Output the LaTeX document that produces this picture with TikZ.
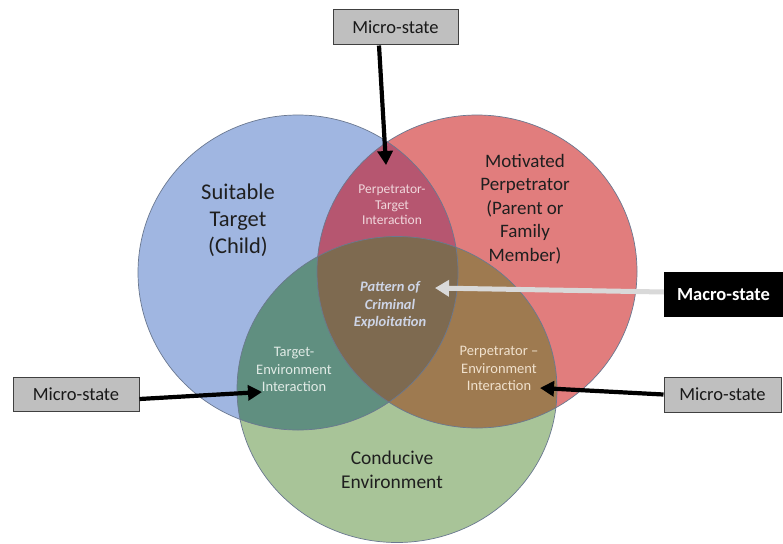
\documentclass[tikz,border=0pt]{standalone}
\usepackage{fontspec}
\setmainfont{Carlito}
\usetikzlibrary{arrows.meta}
\definecolor{bluec}{HTML}{A0B6E1}
\definecolor{redc}{HTML}{E17D7D}
\definecolor{greenc}{HTML}{A8C498}
\definecolor{brc}{HTML}{B65670}
\definecolor{bgc}{HTML}{608F80}
\definecolor{rgc}{HTML}{9E7A50}
\definecolor{cenc}{HTML}{7E6A50}
\definecolor{edgec}{HTML}{6A7890}
\definecolor{ptc}{HTML}{F0D7DC}
\definecolor{patc}{HTML}{CDD4E6}
\definecolor{tec}{HTML}{E1EBE6}
\definecolor{pec}{HTML}{F0E1CD}
\definecolor{boxgray}{HTML}{BFBFBF}
\definecolor{macroarrow}{HTML}{D9D9D9}
\tikzset{
  biglabel/.style={align=center, text=black!88, font=\fontsize{22.5}{27}\selectfont},
  midlabel/.style={align=center, text=black!88, font=\fontsize{19.5}{24}\selectfont},
  smalllabel/.style={align=center, font=\fontsize{14}{17}\selectfont},
  microbox/.style={draw=black!75, line width=1pt, fill=boxgray, text=black!90,
    minimum height=35pt, inner sep=0pt, font=\fontsize{18.5}{22}\selectfont},
  macrobox/.style={fill=black, text=white, minimum width=119pt, minimum height=45pt,
    inner sep=0pt, font=\bfseries\fontsize{18.5}{22}\selectfont},
  blkarrow/.style={draw=black, line width=4.2pt, -{Triangle[length=14pt,width=15pt]}},
  grayarrow/.style={draw=macroarrow, line width=5pt, -{Triangle[length=14pt,width=16pt]}},
  edge/.style={draw=edgec, line width=0.7pt}
}
\begin{document}
\begin{tikzpicture}[x=1pt,y=-1pt]
\useasboundingbox (0,0) rectangle (783,543);
\fill[white] (0,0) rectangle (783,543);
% base fills
\fill[bluec] (298,272.5) ellipse [x radius=160pt, y radius=157.5pt];
\fill[redc] (477,271.5) ellipse [x radius=160pt, y radius=156.5pt];
\fill[greenc] (397,389.5) ellipse [x radius=160pt, y radius=153pt];
% overlaps
\begin{scope}
  \clip (298,272.5) ellipse [x radius=160pt, y radius=157.5pt];
  \fill[brc] (477,271.5) ellipse [x radius=160pt, y radius=156.5pt];
  \fill[bgc] (397,389.5) ellipse [x radius=160pt, y radius=153pt];
\end{scope}
\begin{scope}
  \clip (477,271.5) ellipse [x radius=160pt, y radius=156.5pt];
  \fill[rgc] (397,389.5) ellipse [x radius=160pt, y radius=153pt];
\end{scope}
\begin{scope}
  \clip (298,272.5) ellipse [x radius=160pt, y radius=157.5pt];
  \clip (477,271.5) ellipse [x radius=160pt, y radius=156.5pt];
  \fill[cenc] (397,389.5) ellipse [x radius=160pt, y radius=153pt];
\end{scope}
% outlines
\draw[edge] (298,272.5) ellipse [x radius=160pt, y radius=157.5pt];
\draw[edge] (477,271.5) ellipse [x radius=160pt, y radius=156.5pt];
\draw[edge] (397,389.5) ellipse [x radius=160pt, y radius=153pt];
% labels
\node[biglabel] (lblT) at (238,220) {Suitable\\Target\\(Child)};
\node[midlabel, font=\fontsize{19}{23.5}\selectfont] (lblP) at (525,209) {Motivated\\Perpetrator\\(Parent or\\Family\\Member)};
\node[midlabel] (lblE) at (392,469.5) {Conducive\\Environment};
\node[smalllabel, text=ptc, font=\fontsize{13.5}{15.5}\selectfont] (lblPT) at (392,205) {Perpetrator-\\Target\\Interaction};
\node[smalllabel, text=patc, font=\bfseries\itshape\fontsize{14.5}{17.5}\selectfont] (lblC) at (390,305.5) {Pattern of\\Criminal\\Exploitation};
\node[smalllabel, text=tec, font=\fontsize{14.5}{17.5}\selectfont] (lblTE) at (294,369.5) {Target-\\Environment\\Interaction};
\node[smalllabel, text=pec, font=\fontsize{14.5}{17.5}\selectfont] (lblPE) at (499,368.5) {Perpetrator –\\Environment\\Interaction};
% boxes
\node[microbox, minimum width=125pt] (mtop) at (395.5,27.5) {Micro-state};
\node[microbox, minimum width=126pt, minimum height=34pt] (mleft) at (76,394) {Micro-state};
\node[microbox, minimum width=117pt] (mright) at (722.5,394.5) {Micro-state};
\node[macrobox] (mmacro) at (723.5,294.5) {Macro-state};
% arrow targets
\coordinate (tPT) at (386,165);
\coordinate (tTE) at (262,392);
\coordinate (tPE) at (540,388);
\coordinate (tC) at (435,288);
% arrows
\draw[blkarrow] ([xshift=-16.5pt]mtop.south) -- (tPT);
\draw[blkarrow] ([yshift=-5pt]mleft.east) -- (tTE);
\draw[blkarrow] (mright.west) -- (tPE);
\draw[grayarrow] ([yshift=2.5pt]mmacro.west) -- (tC);
\end{tikzpicture}
\end{document}
